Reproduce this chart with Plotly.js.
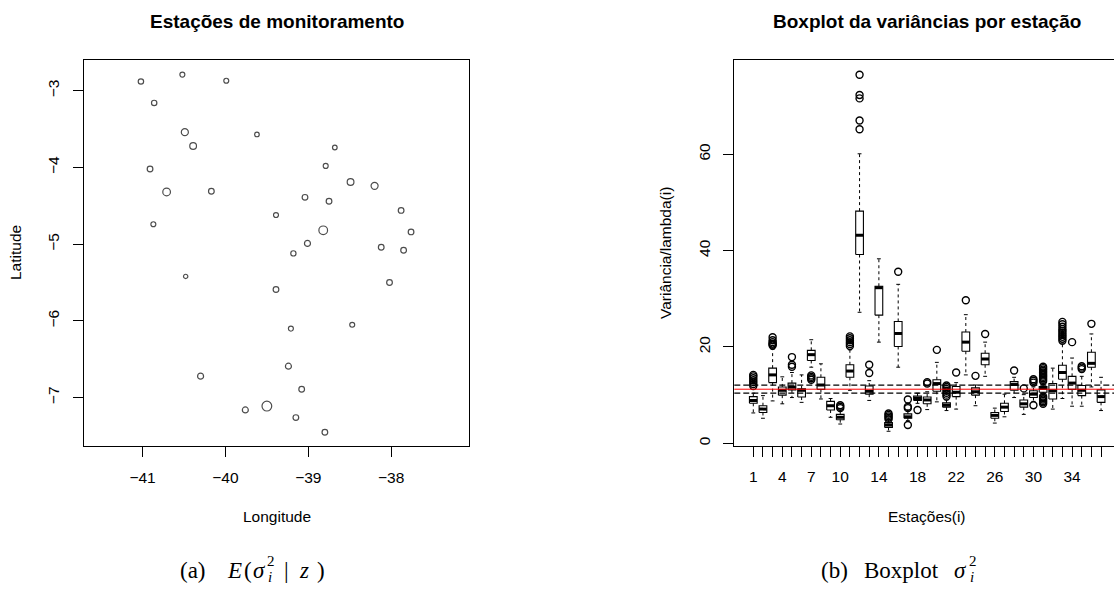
<!DOCTYPE html>
<html>
<head>
<meta charset="utf-8">
<script src="https://cdn.plot.ly/plotly-3.0.1.min.js"></script>
<style>html,body{margin:0;padding:0;background:#fff}</style>
</head>
<body>
<div id="chart" style="width:1114px;height:592px"></div>
<script>
// ---- Station map: coordinates and posterior mean variance E(sigma_i^2 | z) ----
const lon = [-41.02, -40.52, -39.99, -40.86, -40.49, -40.39, -39.62, -38.68, -40.91, -38.79,
             -40.71, -40.17, -38.49, -38.20, -39.04, -38.75, -37.88, -39.39, -40.87, -38.82,
             -37.76, -39.01, -39.18, -38.12, -37.85, -40.48, -39.39, -38.02, -38.47, -39.21,
             -39.24, -40.30, -39.08, -39.76, -39.50, -39.15, -38.80];
const lat = [-2.88, -2.79, -2.87, -3.16, -3.54, -3.72, -3.57, -3.74, -4.02, -3.98,
             -4.32, -4.31, -4.19, -4.24, -4.39, -4.44, -4.56, -4.62, -4.74, -4.82,
             -4.84, -4.99, -5.12, -5.04, -5.08, -5.42, -5.59, -5.50, -6.05, -6.10,
             -6.59, -6.72, -6.89, -7.16, -7.11, -7.26, -7.45];
const condVar = [14, 11, 11, 14, 25, 23, 9, 9, 16, 11,
                 29, 16, 23, 25, 16, 16, 16, 11, 11, 36,
                 16, 18, 13, 16, 16, 7, 16, 16, 11, 11,
                 18, 18, 16, 18, 43, 16, 16];
const lonTicks = [-41, -40, -39, -38];
const latTicks = [-7, -6, -5, -4, -3];

// ---- Boxplot summaries of variance/lambda(i) by station ----
const stations = Array.from({length: 37}, (_, i) => i + 1);
const labeledStations = [1, 4, 7, 10, 14, 18, 22, 26, 30, 34];
const q1  = [8.3, 6.4, 12.6, 10.0, 11.1, 9.6, 17.2, 11.2, 6.9, 4.9,
             13.7, 39.2, 10.2, 26.6, 3.3, 20.1, 5.2, 8.9, 8.2, 10.8,
             7.5, 9.7, 19.1, 10.0, 16.3, 5.2, 6.6, 11.0, 7.5, 9.5,
             10.6, 9.2, 13.3, 11.2, 9.9, 15.8, 8.5];
const med = [8.9, 7.1, 14.2, 11.0, 11.65, 11.0, 18.4, 12.1, 7.8, 5.4,
             15.0, 43.2, 10.8, 32.3, 3.8, 22.8, 5.5, 9.3, 9.0, 12.4,
             7.9, 10.6, 21.0, 10.7, 17.5, 5.8, 7.5, 12.2, 8.2, 10.2,
             11.4, 10.9, 14.7, 12.5, 11.0, 16.6, 9.7];
const q3  = [9.7, 7.8, 15.6, 11.7, 12.5, 11.3, 19.3, 13.7, 8.7, 6.0,
             16.3, 48.2, 11.9, 32.6, 4.3, 25.3, 6.1, 9.8, 9.6, 13.2,
             8.4, 11.8, 23.1, 11.5, 18.7, 6.4, 8.3, 12.8, 9.0, 10.9,
             11.8, 12.4, 16.2, 13.9, 12.0, 18.9, 11.1];
const whiskLo = [6.3, 5.2, 8.8, 8.2, 9.5, 8.5, 15.8, 9.2, 5.4, 4.0,
                 11.0, 27.2, 8.9, 21.0, 2.5, 15.8, 4.7, 8.3, 7.0, 8.6,
                 6.8, 7.1, 14.2, 7.8, 13.9, 4.2, 5.5, 9.5, 6.0, 8.7,
                 10.0, 7.1, 9.3, 7.7, 7.7, 11.7, 6.8];
const whiskHi = [10.4, 9.9, 19.5, 13.8, 14.7, 14.2, 21.5, 16.5, 9.3, 6.9,
                 19.4, 60.1, 13.0, 38.3, 4.9, 33.0, 6.9, 10.4, 10.7, 16.8,
                 9.0, 12.6, 26.7, 12.1, 21.0, 7.3, 10.2, 13.7, 10.1, 11.7,
                 12.5, 15.6, 20.8, 17.7, 13.9, 22.7, 13.7];
const outliers = [
  [11.9, 12.3, 12.7, 13.1, 13.5, 13.9, 14.2], [], [20.3, 20.5, 20.7, 21.0, 21.4, 22.0], [],
  [15.9, 16.3, 17.9], [], [13.2, 13.5, 13.8, 14.1], [], [], [7.3, 7.6, 7.9],
  [20.2, 20.6, 21.0, 21.4, 21.8, 22.2], [65.2, 67.0, 71.6, 72.3, 76.5], [14.6, 16.3], [],
  [5.0, 5.3, 5.6, 5.9, 6.2], [35.6], [3.8, 7.3, 7.6, 9.1], [6.9], [12.4, 12.7], [19.4],
  [9.7, 10.1, 10.5, 10.9, 11.3, 11.7, 12.0], [14.7], [29.7], [14.0], [22.7], [], [],
  [15.1], [11.4], [7.9, 12.6, 13.0, 13.3],
  [8.2, 8.5, 8.8, 9.1, 9.4, 9.7, 12.9, 13.2, 13.5, 13.8, 14.1, 14.4, 14.7, 15.0, 15.3, 15.6, 15.9],
  [], [21.3, 21.7, 22.1, 22.5, 22.9, 23.3, 23.7, 24.2, 24.7, 25.2], [21.0],
  [15.4, 15.7, 16.0], [24.8], []
];
const overallMean = 11.23;
const meanBand = [10.43, 12.07];
const varTicks = [0, 20, 40, 60];

// ---- page geometry helpers ----
const W = 1114, H = 592;
const fx = p => p / W;
const fy = p => 1 - p / H;
const SANS = 'Liberation Sans, Arial, sans-serif';
const SERIF = 'Liberation Serif, Times New Roman, serif';
const tickFont = {family: SANS, size: 15.5, color: '#000'};

// ---- build boxplot geometry from the summaries ----
const HALF = 0.4, STAPLE = 0.2;
const boxX = [], boxY = [], medX = [], medY = [], whX = [], whY = [], stX = [], stY = [], outX = [], outY = [];
stations.forEach((s, i) => {
  boxX.push(s - HALF, s + HALF, s + HALF, s - HALF, s - HALF, null);
  boxY.push(q1[i], q1[i], q3[i], q3[i], q1[i], null);
  medX.push(s - HALF, s + HALF, null);
  medY.push(med[i], med[i], null);
  whX.push(s, s, null, s, s, null);
  whY.push(q3[i], whiskHi[i], null, q1[i], whiskLo[i], null);
  stX.push(s - STAPLE, s + STAPLE, null, s - STAPLE, s + STAPLE, null);
  stY.push(whiskHi[i], whiskHi[i], null, whiskLo[i], whiskLo[i], null);
  outliers[i].forEach(v => { outX.push(s); outY.push(v); });
});

const traces = [
  {type: 'scatter', mode: 'markers', x: lon, y: lat, xaxis: 'x', yaxis: 'y',
   marker: {symbol: 'circle-open', color: '#000', line: {width: 1.2},
            size: condVar.map(v => 3.3 + 0.15 * v)}, hoverinfo: 'skip'},
  {type: 'scatter', mode: 'lines', x: whX, y: whY, xaxis: 'x2', yaxis: 'y2',
   line: {color: '#000', width: 1, dash: '3px,3px'}, hoverinfo: 'skip'},
  {type: 'scatter', mode: 'lines', x: stX, y: stY, xaxis: 'x2', yaxis: 'y2',
   line: {color: '#000', width: 1}, hoverinfo: 'skip'},
  {type: 'scatter', mode: 'lines', x: boxX, y: boxY, xaxis: 'x2', yaxis: 'y2',
   line: {color: '#000', width: 1.1}, hoverinfo: 'skip'},
  {type: 'scatter', mode: 'lines', x: medX, y: medY, xaxis: 'x2', yaxis: 'y2',
   line: {color: '#000', width: 3}, hoverinfo: 'skip'},
  {type: 'scatter', mode: 'markers', x: outX, y: outY, xaxis: 'x2', yaxis: 'y2',
   marker: {symbol: 'circle-open', color: '#000', size: 7, line: {width: 1.4}}, hoverinfo: 'skip'}
];

const axisBase = {
  ticks: 'outside', ticklen: 10, tickwidth: 1, tickcolor: '#000',
  showline: true, linecolor: '#000', linewidth: 1,
  showgrid: false, zeroline: false, automargin: false,
  tickfont: tickFont, fixedrange: true
};

const ann = (text, x, y, opts = {}) => Object.assign({
  text, x: fx(x), y: fy(y), xref: 'paper', yref: 'paper',
  xanchor: 'center', yanchor: 'middle', showarrow: false,
  font: {family: SANS, size: 15.5, color: '#000'}
}, opts);

const capFont = {family: SERIF, size: 23, color: '#000'};
const scriptFont = {family: SERIF, size: 15, color: '#000'};
const cap = (text, x, y = 570) => ann(text, x, y, {font: capFont});
const script = (text, x, y) => ann(text, x, y, {font: scriptFont});

const layout = {
  width: W, height: H,
  margin: {l: 0, r: 0, t: 0, b: 0},
  paper_bgcolor: '#fff', plot_bgcolor: '#fff',
  showlegend: false,
  xaxis: Object.assign({}, axisBase, {
    domain: [fx(84), fx(469.3)], range: [-41.707, -37.057], anchor: 'y',
    tickvals: lonTicks, mirror: true, ticklabelstandoff: 7
  }),
  yaxis: Object.assign({}, axisBase, {
    domain: [fy(446), fy(60)], range: [-7.63, -2.60], anchor: 'x',
    tickvals: latTicks, tickangle: -90, mirror: true, ticklabelstandoff: 8
  }),
  xaxis2: Object.assign({}, axisBase, {
    domain: [fx(734.3), 1], range: [-0.967, 38.34], anchor: 'y2',
    tickvals: stations,
    ticktext: stations.map(s => labeledStations.includes(s) ? String(s) : ''),
    mirror: true, ticklabelstandoff: 6
  }),
  yaxis2: Object.assign({}, axisBase, {
    domain: [fy(446), fy(60)], range: [-0.56, 79.57], anchor: 'x2',
    tickvals: varTicks, tickangle: -90, ticklabelstandoff: 7
  }),
  shapes: [
    {type: 'line', xref: 'x2 domain', yref: 'y2', x0: 0, x1: 1, y0: meanBand[0], y1: meanBand[0],
     line: {color: '#000', width: 1.3, dash: '6px,3px'}},
    {type: 'line', xref: 'x2 domain', yref: 'y2', x0: 0, x1: 1, y0: meanBand[1], y1: meanBand[1],
     line: {color: '#000', width: 1.3, dash: '6px,3px'}},
    {type: 'line', xref: 'x2 domain', yref: 'y2', x0: 0, x1: 1, y0: overallMean, y1: overallMean,
     line: {color: '#ff0000', width: 1}}
  ],
  annotations: [
    ann('<b>Estações de monitoramento</b>', 277, 21, {font: {family: SANS, size: 19, color: '#000'}}),
    ann('<b>Boxplot da variâncias por estação</b>', 927, 21, {font: {family: SANS, size: 19, color: '#000'}}),
    ann('Longitude', 277, 516),
    ann('Latitude', 15, 253, {textangle: -90}),
    ann('Estações(i)', 927, 516),
    ann('Variância/lambda(i)', 665, 253, {textangle: -90}),
    // caption (a): E(sigma_i^2 | z)
    cap('(a)', 193), cap('<i>E</i>', 234), cap('(', 248), cap('<i>σ</i>', 259),
    script('2', 271, 561), script('<i>i</i>', 270, 577),
    cap('|', 286.7), cap('<i>z</i>', 304), cap(')', 321),
    // caption (b): Boxplot sigma_i^2
    cap('(b)', 835), cap('Boxplot', 901), cap('<i>σ</i>', 960),
    script('2', 972.5, 561), script('<i>i</i>', 971.5, 577)
  ]
};

Plotly.newPlot('chart', traces, layout, {staticPlot: true, displayModeBar: false});
</script>
</body>
</html>
